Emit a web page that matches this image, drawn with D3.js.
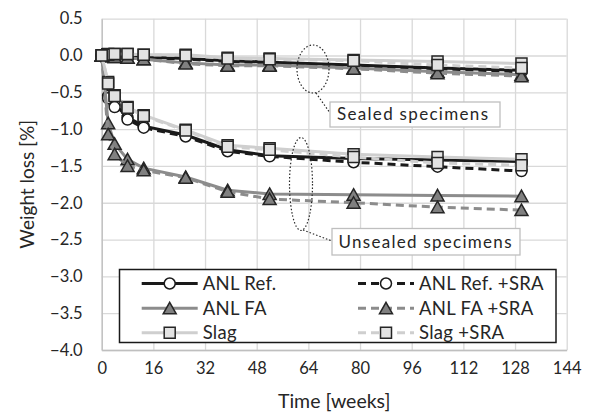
<!DOCTYPE html>
<html>
<head>
<meta charset="utf-8">
<script src="https://cdn.jsdelivr.net/npm/d3@7"></script>
<style>
  body { margin: 0; background: #fff; }
  text { font-family: Lato, "Open Sans", sans-serif; fill: #262626; }
</style>
</head>
<body>
<svg id="drawing_region"></svg>
<script>
// measurement times (weeks)
const weeks = [0, 2, 4, 8, 13, 26, 39, 52, 78, 104, 130];

// unsealed specimens, weight loss [%]
const unsealedRef    = [0, -0.55, -0.66, -0.84, -0.96, -1.08, -1.28, -1.36, -1.40, -1.42, -1.44];
const unsealedRefSra = [0, -0.58, -0.70, -0.87, -0.98, -1.10, -1.30, -1.37, -1.45, -1.51, -1.57];
const unsealedFa     = [0, -0.92, -1.20, -1.41, -1.53, -1.65, -1.83, -1.88, -1.89, -1.90, -1.91];
const unsealedFaSra  = [0, -1.07, -1.34, -1.50, -1.56, -1.66, -1.85, -1.95, -2.00, -2.06, -2.10];
const unsealedSlag   = [0, -0.36, -0.54, -0.70, -0.81, -1.01, -1.22, -1.26, -1.34, -1.38, -1.41];
const unsealedSlagSra= [0, -0.38, -0.55, -0.71, -0.82, -1.02, -1.24, -1.28, -1.38, -1.46, -1.49];

// sealed specimens, weight loss [%]
const sealedRef      = [0, 0.00, -0.01, -0.01, -0.02, -0.04, -0.07, -0.09, -0.13, -0.17, -0.20];
const sealedRefSra   = [0, 0.00, -0.01, -0.02, -0.03, -0.05, -0.08, -0.10, -0.14, -0.18, -0.22];
const sealedFa       = [0, -0.01, -0.02, -0.03, -0.05, -0.10, -0.13, -0.13, -0.17, -0.22, -0.26];
const sealedFaSra    = [0, -0.01, -0.02, -0.03, -0.05, -0.11, -0.14, -0.14, -0.18, -0.24, -0.28];
const sealedSlag     = [0, 0.02, 0.02, 0.02, 0.01, 0.01, -0.03, -0.04, -0.06, -0.08, -0.11];
const sealedSlagSra  = [0, 0.01, 0.02, 0.02, 0.01, 0.00, -0.04, -0.05, -0.07, -0.13, -0.17];

const seriesNames = ["ANL Ref.", "ANL Ref. +SRA", "ANL FA", "ANL FA +SRA", "Slag", "Slag +SRA"];
const xTicks = [0, 16, 32, 48, 64, 80, 96, 112, 128, 144];
const yTicks = [0.5, 0, -0.5, -1.0, -1.5, -2.0, -2.5, -3.0, -3.5, -4.0];

// styles per series (same order as seriesNames)
const styles = [
  { color: "#1a1a1a", dash: null,  marker: "circle",   fill: "#ffffff" },
  { color: "#1a1a1a", dash: "8,5", marker: "circle",   fill: "#ffffff" },
  { color: "#8c8c8c", dash: null,  marker: "triangle", fill: "#808080" },
  { color: "#8c8c8c", dash: "8,5", marker: "triangle", fill: "#808080" },
  { color: "#cfcfcf", dash: null,  marker: "square",   fill: "#e3e3e3" },
  { color: "#cfcfcf", dash: "8,5", marker: "square",   fill: "#e3e3e3" }
];

const unsealed = [unsealedRef, unsealedRefSra, unsealedFa, unsealedFaSra, unsealedSlag, unsealedSlagSra];
const sealed = [sealedRef, sealedRefSra, sealedFa, sealedFaSra, sealedSlag, sealedSlagSra];

const width = 593, height = 415;
const margin = { top: 18.7, right: 26.3, bottom: 65, left: 101.7 };
const innerW = width - margin.left - margin.right;
const innerH = height - margin.top - margin.bottom;

const svg = d3.select("#drawing_region")
    .attr("width", width)
    .attr("height", height);

const chart = svg.append("g")
    .attr("transform", `translate(${margin.left}, ${margin.top})`);

const xscale = d3.scaleLinear().domain([0, 144]).range([0, innerW]);
const yscale = d3.scaleLinear().domain([-4, 0.5]).range([innerH, 0]);

// gridlines
chart.append("g")
    .attr("transform", `translate(0, ${innerH})`)
    .call(d3.axisBottom(xscale).tickValues(xTicks).tickSize(-innerH).tickFormat(""))
    .call(g => g.select(".domain").remove())
    .call(g => g.selectAll("line").attr("stroke", "#d9d9d9").attr("stroke-width", 1.3));

chart.append("g")
    .call(d3.axisLeft(yscale).tickValues(yTicks).tickSize(-innerW).tickFormat(""))
    .call(g => g.select(".domain").remove())
    .call(g => g.selectAll("line").attr("stroke", "#d9d9d9").attr("stroke-width", 1.3));

// axis lines and labels
const xaxis_group = chart.append("g")
    .attr("transform", `translate(0, ${innerH})`)
    .call(d3.axisBottom(xscale).tickValues(xTicks).tickSize(0).tickPadding(12).tickFormat(d3.format("d")));
xaxis_group.select(".domain").attr("stroke", "#bfbfbf").attr("stroke-width", 1.3);
xaxis_group.selectAll("text").attr("font-size", "16.5px").attr("fill", "#262626")
    .style("font-family", "Lato, sans-serif");

const yaxis_group = chart.append("g")
    .call(d3.axisLeft(yscale).tickValues(yTicks).tickSize(0).tickPadding(19).tickFormat(d3.format(".1f")));
yaxis_group.select(".domain").attr("stroke", "#bfbfbf").attr("stroke-width", 1.3);
yaxis_group.selectAll("text").attr("font-size", "16.5px").attr("fill", "#262626")
    .style("font-family", "Lato, sans-serif");

svg.append("text")
    .attr("x", margin.left + innerW / 2)
    .attr("y", 408)
    .attr("text-anchor", "middle")
    .attr("font-size", "19.5px")
    .text("Time [weeks]");

svg.append("text")
    .attr("transform", `translate(34, ${margin.top + innerH / 2}) rotate(-90)`)
    .attr("text-anchor", "middle")
    .attr("font-size", "19px")
    .text("Weight loss [%]");

// marker paths
function markerPath(type) {
    if (type === "circle") return d3.symbol(d3.symbolCircle, 95)();
    if (type === "square") return "M-5.5,-5.5H5.5V5.5H-5.5Z";
    return "M0,-6L6.5,5.5H-6.5Z";
}
function markerStroke(type) {
    return type === "circle" ? "#1a1a1a" : "#262626";
}

const line = d3.line()
    .x((d, i) => xscale(weeks[i]))
    .y(d => yscale(d));

function drawSeries(values, st) {
    const g = chart.append("g");
    g.append("path")
        .attr("d", line(values))
        .attr("fill", "none")
        .attr("stroke", st.color)
        .attr("stroke-width", 3)
        .attr("stroke-dasharray", st.dash);
    g.selectAll("path.m")
        .data(values)
        .enter()
        .append("path")
        .attr("class", "m")
        .attr("d", markerPath(st.marker))
        .attr("transform", (d, i) => `translate(${xscale(weeks[i])}, ${yscale(d)})`)
        .attr("fill", st.fill)
        .attr("stroke", markerStroke(st.marker))
        .attr("stroke-width", 1.5);
}

sealed.forEach((vals, i) => drawSeries(vals, styles[i]));
unsealed.forEach((vals, i) => drawSeries(vals, styles[i]));

// annotations
const ann = svg.append("g");
ann.append("ellipse")
    .attr("cx", 313).attr("cy", 69).attr("rx", 16).attr("ry", 24)
    .attr("fill", "none").attr("stroke", "#262626").attr("stroke-width", 1.2)
    .attr("stroke-dasharray", "1.5,2");
ann.append("line")
    .attr("x1", 316).attr("y1", 93).attr("x2", 330).attr("y2", 113)
    .attr("stroke", "#262626").attr("stroke-width", 1.2).attr("stroke-dasharray", "1.5,2");
ann.append("rect")
    .attr("x", 330).attr("y", 102).attr("width", 170).attr("height", 25)
    .attr("fill", "#fff").attr("stroke", "#bfbfbf").attr("stroke-width", 1.3);
ann.append("text")
    .attr("x", 337).attr("y", 120)
    .attr("font-size", "17px")
    .attr("textLength", 151).attr("lengthAdjust", "spacing")
    .text("Sealed specimens");

ann.append("ellipse")
    .attr("cx", 301).attr("cy", 184).attr("rx", 11.5).attr("ry", 46.5)
    .attr("fill", "none").attr("stroke", "#262626").attr("stroke-width", 1.2)
    .attr("stroke-dasharray", "1.5,2");
ann.append("line")
    .attr("x1", 303).attr("y1", 230).attr("x2", 332).attr("y2", 241)
    .attr("stroke", "#262626").attr("stroke-width", 1.2).attr("stroke-dasharray", "1.5,2");
ann.append("rect")
    .attr("x", 332).attr("y", 228.5).attr("width", 188).attr("height", 26.5)
    .attr("fill", "#fff").attr("stroke", "#bfbfbf").attr("stroke-width", 1.3);
ann.append("text")
    .attr("x", 338.5).attr("y", 248)
    .attr("font-size", "17px")
    .attr("textLength", 173).attr("lengthAdjust", "spacing")
    .text("Unsealed specimens");

// legend
const legend = svg.append("g");
legend.append("rect")
    .attr("x", 119.5).attr("y", 269.5).attr("width", 436.5).attr("height", 73)
    .attr("fill", "#fff").attr("stroke", "#1a1a1a").attr("stroke-width", 1.5);

const legendX = [141.7, 358];
const legendY = [283.5, 308.3, 332.7];
seriesNames.forEach((name, i) => {
    const st = styles[i];
    const x0 = legendX[i % 2];
    const y0 = legendY[Math.floor(i / 2)];
    const item = legend.append("g");
    item.append("line")
        .attr("x1", x0).attr("x2", x0 + 56)
        .attr("y1", y0).attr("y2", y0)
        .attr("stroke", st.color).attr("stroke-width", 3)
        .attr("stroke-dasharray", st.dash);
    item.append("path")
        .attr("d", markerPath(st.marker))
        .attr("transform", `translate(${x0 + 28}, ${y0})`)
        .attr("fill", st.fill)
        .attr("stroke", markerStroke(st.marker))
        .attr("stroke-width", 1.5);
    item.append("text")
        .attr("x", x0 + 61)
        .attr("y", y0 + 6.5)
        .attr("font-size", "18.5px")
        .attr("letter-spacing", "0.3px")
        .text(name);
});
</script>
</body>
</html>
